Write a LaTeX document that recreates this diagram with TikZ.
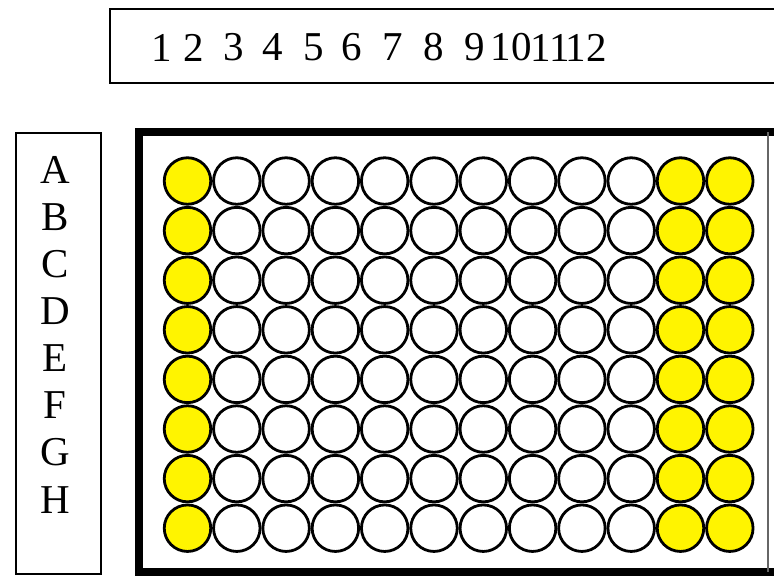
\documentclass[tikz,border=0pt]{standalone}
\usepackage{fontspec}
\newfontfamily\platefont{Liberation Serif}
\definecolor{wellyellow}{RGB}{255,244,0}
\begin{document}
\begin{tikzpicture}[x=1pt,y=-1pt,
  well/.style={circle,draw=black,line width=2.8pt,minimum size=46.5pt,inner sep=0pt,fill=white},
  ywell/.style={well,fill=wellyellow},
  lab/.style={font=\platefont\fontsize{41}{48}\selectfont,inner sep=0pt},
  frame/.style={draw=black,line width=2pt}]
\useasboundingbox (0,0) rectangle (774,576);
\fill[white] (0,0) rectangle (774,576);
% column label box
\draw[frame] (780,9) -- (110,9) -- (110,83) -- (780,83);
% row label box
\draw[frame] (16,133) rectangle (101,574);
% plate
\draw[line width=8pt] (780,132) -- (139,132) -- (139,572) -- (780,572);
\draw[line width=1.2pt,black!60] (768,132) -- (768,572);
% column numbers
\foreach \n/\x in {1/162,2/194,3/234,4/273,5/314,6/352,7/393,8/434,9/475,10/511,11/550,12/586}
  \node[lab] (n\n) at (\x,47.5) {\n};
% row letters
\foreach \l [count=\i from 0] in {A,B,C,D,E,F,G,H}
  \node[lab] (r\l) at (55,170+47.1*\i) {\l};
% wells
\foreach \r in {0,...,7}
  \foreach \c in {1,...,12}{
    \ifnum\c=1 \def\st{ywell}\else\ifnum\c>10 \def\st{ywell}\else\def\st{well}\fi\fi
    \node[\st] (w-\r-\c) at (187.5+49.3*\c-49.3,181+49.6*\r) {};
  }
\end{tikzpicture}
\end{document}
